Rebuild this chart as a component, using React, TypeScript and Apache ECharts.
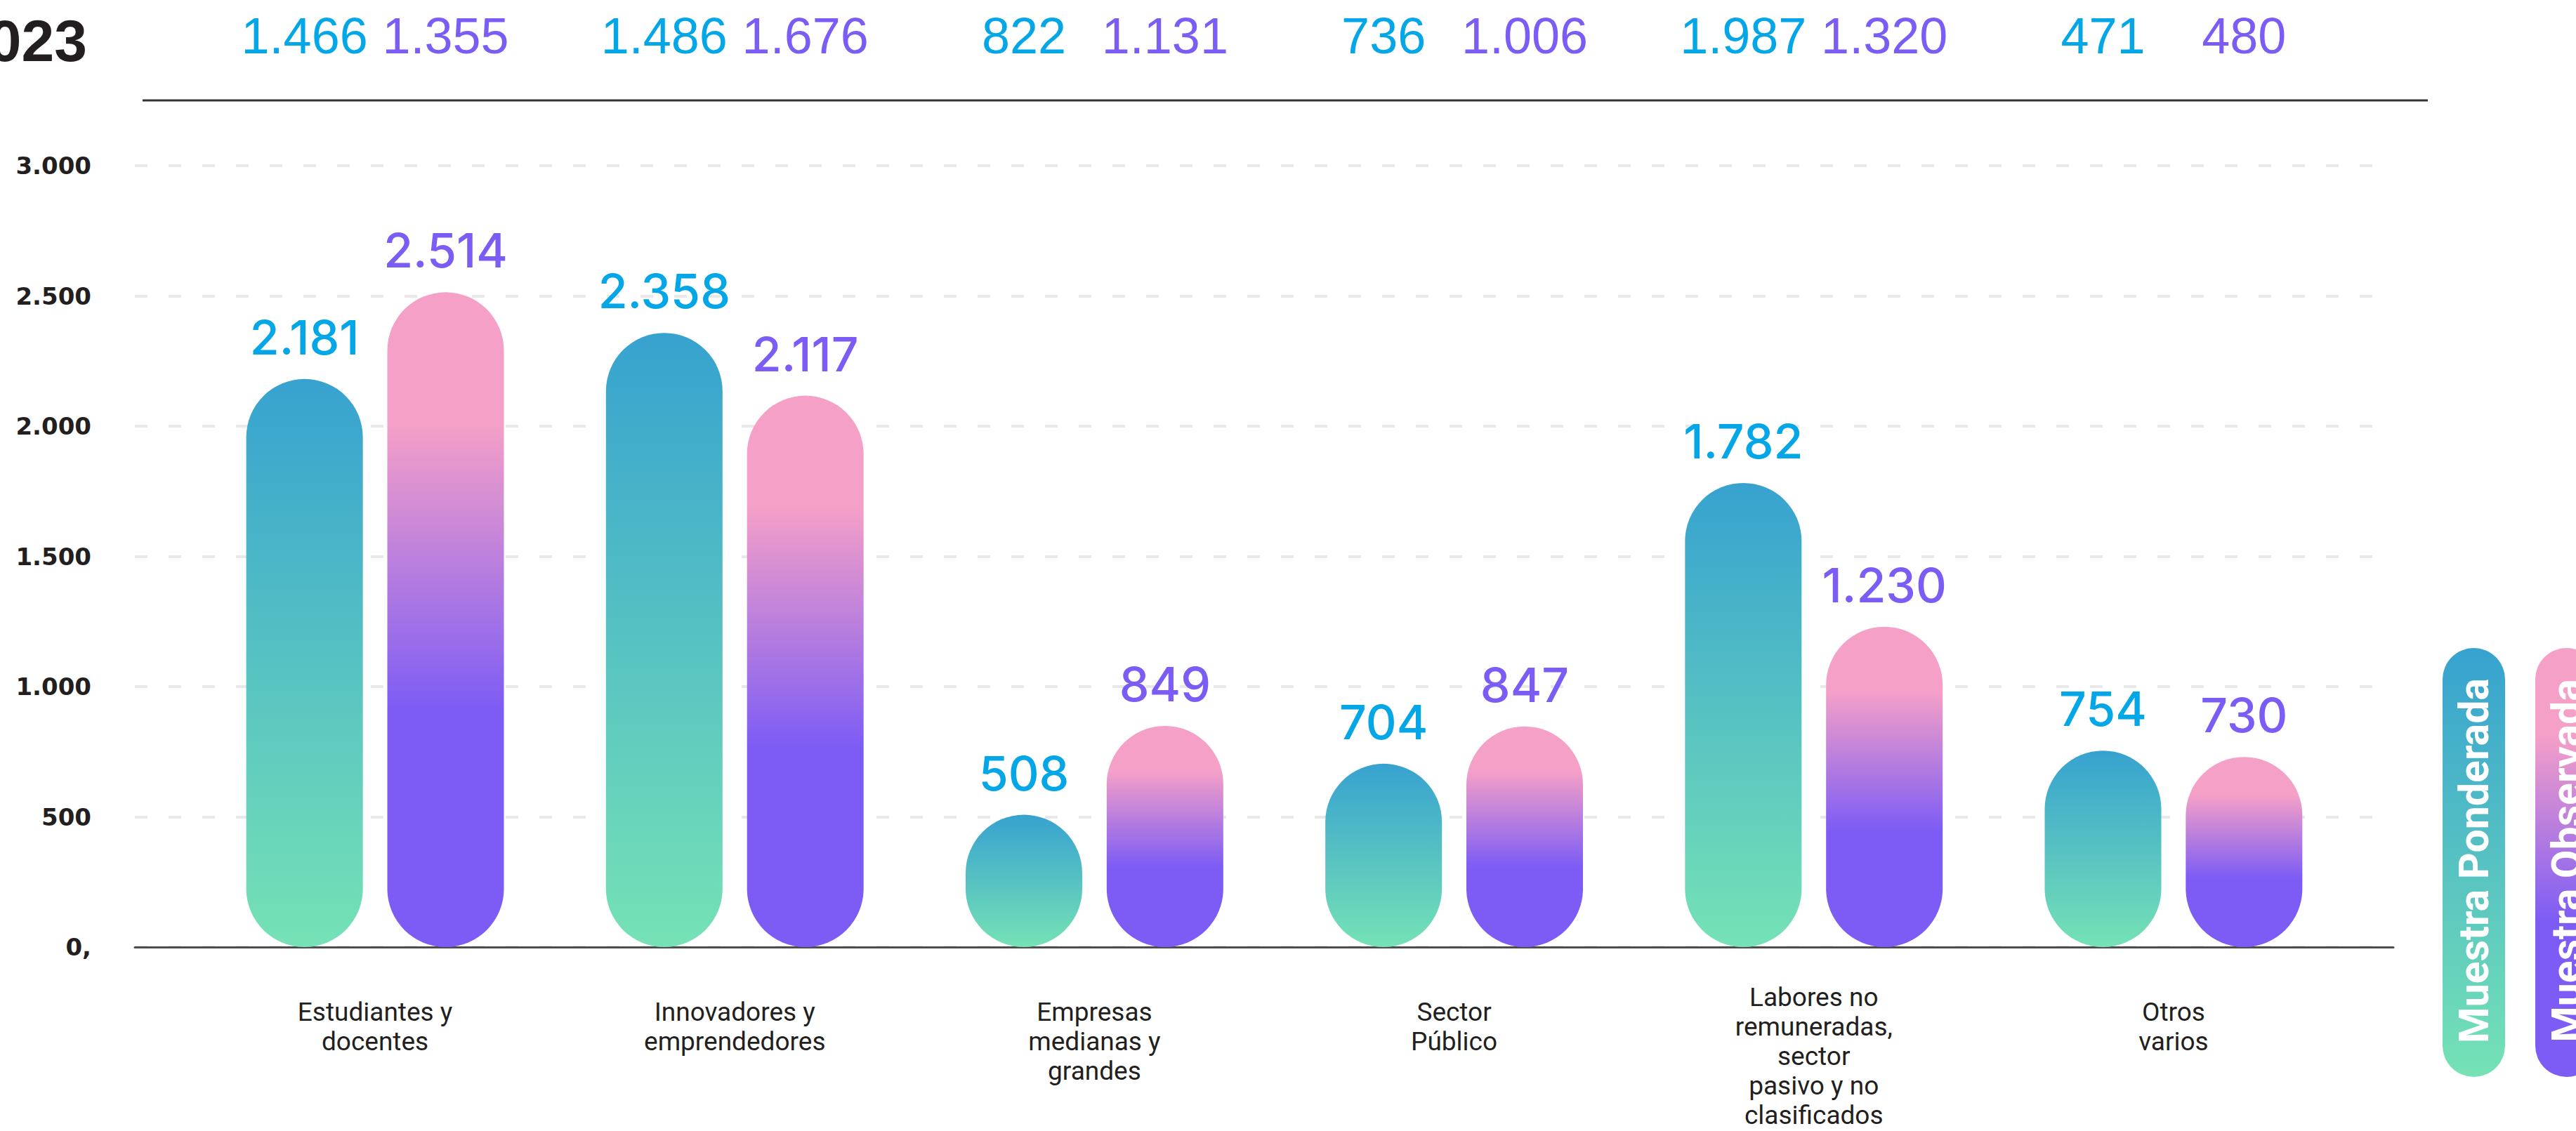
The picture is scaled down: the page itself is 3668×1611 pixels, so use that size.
import React, { useEffect, useRef } from "react";
import * as echarts from "echarts";

// ---------- data ----------
const categories: string[] = [
  "Estudiantes y\ndocentes",
  "Innovadores y\nemprendedores",
  "Empresas\nmedianas y\ngrandes",
  "Sector\nPúblico",
  "Labores no\nremuneradas,\nsector\npasivo y no\nclasificados",
  "Otros\nvarios",
];
const seriesNames: string[] = ["Muestra Ponderada", "Muestra Observada"];
const ponderada: number[] = [2181, 2358, 508, 704, 1782, 754];
const observada: number[] = [2514, 2117, 849, 847, 1230, 730];
const ponderada2023: number[] = [1466, 1486, 822, 736, 1987, 471];
const observada2023: number[] = [1355, 1676, 1131, 1006, 1320, 480];
const yearLabel = "2023";
const yTickLabels: string[] = ["0,", "500", "1.000", "1.500", "2.000", "2.500", "3.000"];

// ---------- helpers ----------
const fmt = (n: number): string =>
  n >= 1000 ? `${Math.floor(n / 1000)}.${String(n % 1000).padStart(3, "0")}` : String(n);

const BLUE_TXT = "#03a6e6";
const PURPLE_TXT = "#7b5cf5";
const INK = "#231f20";

const gradPond = () =>
  new echarts.graphic.LinearGradient(0, 0, 0, 1, [
    { offset: 0, color: "#37a2cf" },
    { offset: 1, color: "#76e2b5" },
  ]);
const gradObs = () =>
  new echarts.graphic.LinearGradient(0, 0, 0, 1, [
    { offset: 0, color: "#f5a0c7" },
    { offset: 0.2, color: "#f5a0c7" },
    { offset: 0.64, color: "#7c5cf5" },
    { offset: 1, color: "#7c5cf5" },
  ]);

const BAR_W = 166;
const BAR_GAP = "21%";
const GRID_TOP = 236;
const GRID_BOTTOM = 262;

function buildOption(): any {
  const xData = categories.map((c) =>
    c.split("\n").length >= 5 ? { value: c } : { value: c, textStyle: { padding: [21, 0, 0, 0] } }
  );
  const barLabel = (color: string) => ({
    show: true,
    position: "top",
    distance: 26,
    formatter: (p: any) => fmt(p.value),
    color,
    fontFamily: "Inter",
    fontWeight: 500,
    fontSize: 68,
  });
  const topLabel = (color: string) => ({
    show: true,
    position: "insideBottom",
    distance: 0,
    formatter: (p: any) => fmt(p.value),
    color,
    fontFamily: "Liberation Sans",
    fontSize: 72,
    lineHeight: 78,
  });
  return {
    animation: false,
    backgroundColor: "#ffffff",
    grid: [
      { left: 192, right: 260, top: GRID_TOP, bottom: GRID_BOTTOM, outerBoundsMode: "none", containLabel: false },
      { left: 278, right: 317, top: GRID_TOP, bottom: GRID_BOTTOM, outerBoundsMode: "none", containLabel: false },
      { left: 278, right: 317, top: 0, bottom: 1611 - 90, outerBoundsMode: "none", containLabel: false },
    ],
    xAxis: [
      {
        gridIndex: 0,
        type: "category",
        data: categories,
        axisLine: { show: true, lineStyle: { color: "#4d4d4d", width: 3 } },
        axisTick: { show: false },
        axisLabel: { show: false },
        splitLine: { show: false },
      },
      {
        gridIndex: 1,
        type: "category",
        data: xData,
        axisLine: { show: false },
        axisTick: { show: false },
        axisLabel: {
          interval: 0,
          margin: 50,
          fontFamily: "Roboto",
          fontSize: 37,
          lineHeight: 42,
          color: INK,
          align: "center",
          verticalAlign: "top",
        },
      },
      { gridIndex: 2, type: "category", data: categories, show: false },
    ],
    yAxis: [
      {
        gridIndex: 0,
        type: "value",
        min: 0,
        max: 3000,
        interval: 500,
        axisLine: { show: false },
        axisTick: { show: false },
        axisLabel: {
          margin: 62,
          formatter: (_v: number, i: number) => yTickLabels[i],
          fontFamily: "DejaVu Sans",
          fontWeight: "bold",
          fontSize: 34,
          color: INK,
        },
        splitLine: { show: true, lineStyle: { color: "#e8e8e8", width: 4, type: [18, 30] } },
      },
      { gridIndex: 1, type: "value", min: 0, max: 3000, interval: 500, show: false },
      { gridIndex: 2, type: "value", min: 0, max: 3000, show: false },
    ],
    series: [
      {
        type: "bar",
        name: seriesNames[0],
        xAxisIndex: 1,
        yAxisIndex: 1,
        data: ponderada,
        barWidth: BAR_W,
        barGap: BAR_GAP,
        itemStyle: { borderRadius: BAR_W / 2, color: gradPond() },
        label: barLabel(BLUE_TXT),
      },
      {
        type: "bar",
        name: seriesNames[1],
        xAxisIndex: 1,
        yAxisIndex: 1,
        data: observada,
        barWidth: BAR_W,
        barGap: BAR_GAP,
        itemStyle: { borderRadius: BAR_W / 2, color: gradObs() },
        label: barLabel(PURPLE_TXT),
      },
      {
        type: "bar",
        name: seriesNames[0] + " " + yearLabel,
        xAxisIndex: 2,
        yAxisIndex: 2,
        data: ponderada2023,
        barWidth: BAR_W,
        barGap: BAR_GAP,
        silent: true,
        itemStyle: { color: "rgba(0,0,0,0)" },
        label: topLabel(BLUE_TXT),
      },
      {
        type: "bar",
        name: seriesNames[1] + " " + yearLabel,
        xAxisIndex: 2,
        yAxisIndex: 2,
        data: observada2023,
        barWidth: BAR_W,
        barGap: BAR_GAP,
        silent: true,
        itemStyle: { color: "rgba(0,0,0,0)" },
        label: topLabel(PURPLE_TXT),
      },
    ],
    graphic: [
      {
        type: "text",
        x: 124,
        y: 58,
        style: {
          text: yearLabel,
          fill: INK,
          fontFamily: "Liberation Sans",
          fontWeight: "bold",
          fontSize: 84,
          align: "right",
          verticalAlign: "middle",
          textAlign: "right",
          textVerticalAlign: "middle",
        },
      },
      {
        type: "line",
        shape: { x1: 203, y1: 143, x2: 3457, y2: 143 },
        style: { stroke: "#333333", lineWidth: 3 },
      },
      {
        type: "rect",
        shape: { x: 3478, y: 923, width: 89, height: 611, r: 44.5 },
        style: { fill: gradPond() },
      },
      {
        type: "text",
        x: 3522,
        y: 1226,
        rotation: Math.PI / 2,
        style: {
          text: seriesNames[0],
          fill: "#ffffff",
          fontFamily: "Roboto",
          fontWeight: "bold",
          fontSize: 59,
          align: "center",
          verticalAlign: "middle",
          textAlign: "center",
          textVerticalAlign: "middle",
        },
      },
      {
        type: "rect",
        shape: { x: 3610, y: 923, width: 89, height: 611, r: 44.5 },
        style: { fill: gradObs() },
      },
      {
        type: "text",
        x: 3654,
        y: 1226,
        rotation: Math.PI / 2,
        style: {
          text: seriesNames[1],
          fill: "#ffffff",
          fontFamily: "Roboto",
          fontWeight: "bold",
          fontSize: 59,
          align: "center",
          verticalAlign: "middle",
          textAlign: "center",
          textVerticalAlign: "middle",
        },
      },
    ],
  };
}

export default function App() {
  const ref = useRef<HTMLDivElement>(null);
  useEffect(() => {
    if (!ref.current) return;
    const chart = echarts.init(ref.current, null, { renderer: "svg" });
    chart.setOption(buildOption());
    return () => chart.dispose();
  }, []);
  return (
    <div
      ref={ref}
      style={{ position: "fixed", left: 0, top: 0, width: 3668, height: 1611, background: "#ffffff" }}
    />
  );
}
